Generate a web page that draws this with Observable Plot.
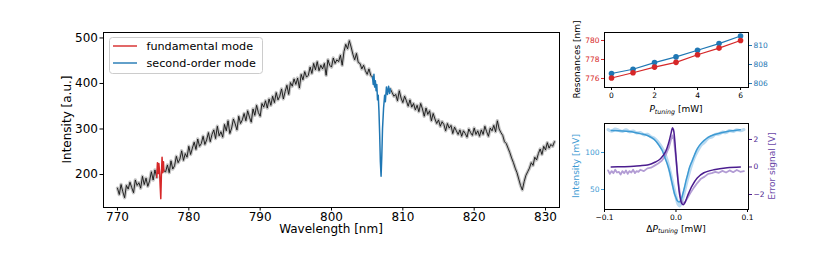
<!DOCTYPE html>
<html><head><meta charset="utf-8">
<script src="https://cdn.jsdelivr.net/npm/d3@7"></script>
<script src="https://cdn.jsdelivr.net/npm/@observablehq/plot@0.6"></script>
<style>
body{margin:0;background:#fff;}
#wrap{position:relative;width:830px;height:260px;font-family:"DejaVu Sans";}
#wrap svg{position:absolute;overflow:visible;}
</style>
</head><body><div id="wrap"></div>
<script>
// ---------- main spectrum ----------
const specStart = 770, specStep = 0.25;
const specIntensity = [
 170,156,178,162, 149,176,168,183, 171,160,188,176, 182,170,196,178, 192,174,186,206,
 188,210,194,199, 203,215,208,206, 221,204,230,212, 219,240,226,234, 252,231,246,238,
 262,244,258,271, 255,278,262,268, 284,266,276,292, 272,288,298,279, 306,285,294,282,
 310,296,318,290, 302,322,311,298, 328,312,320,334, 318,340,326,315, 344,330,352,336,
 328,356,348,362, 346,366,352,372, 358,380,364,372, 388,366,382,396, 376,402,394,410,
 398,412,390,420, 408,426,414,418, 436,422,444,430, 448,428,440,432, 444,418,452,440,
 436,456,444,452, 448,462,440,470, 486,476,494,480, 464,452,466,446, 444,432,440,428,
 420,432,418,414, 404,396,410,400, 386,388,382,392, 378,388,380,372, 376,362,384,368,
 358,372,362,350, 364,348,356,342, 352,338,356,344, 328,346,332,340, 318,334,322,312,
 320,306,316,310, 296,312,302,308, 290,304,296,288, 298,284,296,290, 282,300,292,286,
 302,288,296,284, 298,288,306,294, 284,302,296,308, 294,318,300,292, 286,272,268,258,
 248,236,226,214, 204,190,176,166, 184,198,206,214, 226,220,238,232, 246,256,244,262,
 254,270,258,266, 262,272
];
const fundW = [775.5,775.6,775.7,775.8,775.9,776.0,776.07,776.15,776.25,776.35,776.45,776.5];
const fundV = [194,226,202,224,206,170,147,196,238,204,228,208];
const secW = [805.75,805.85,805.95,806.05,806.15,806.25,806.35,806.45,806.55,806.65,806.75,806.85,806.95,807.05,807.15,807.3,807.45,807.55,807.7,807.85,808.0,808.15,808.25];
const secV = [414,398,420,392,406,384,398,364,374,340,290,228,196,240,300,346,374,360,392,376,394,378,388];
const mainXTicks = [770,780,790,800,810,820,830];
const mainYTicks = [200,300,400,500];
const legendLabels = ["fundamental mode","second-order mode"];

// ---------- top-right: resonances ----------
const power = [0,1,2,3,4,5,6];
const fundRes = [776.05,776.6,777.2,777.7,778.5,779.2,780.0];
const secRes = [807.05,807.5,808.2,808.8,809.5,810.2,811.0];
const powerTicks = [0,2,4,6];
const resTicksL = [776,778,780];
const resTicksR = [806,808,810];

// ---------- bottom-right: intensity & error signal ----------
const fitIX = [-0.0906,-0.075,-0.059,-0.05,-0.04,-0.034,-0.0287,-0.024,-0.0193,-0.016,-0.0123,-0.009,-0.0063,-0.004,-0.002,0.0,0.0017,0.0045,0.006,0.0077,0.0095,0.0119,0.014,0.0165,0.019,0.0227,0.026,0.0297,0.034,0.039,0.045,0.053,0.062,0.0716,0.08,0.09];
const fitIV = [129.7,129,127.5,125.5,123,120,116,110,102.7,94,84.7,74,62,52,44,39,35,33,34.5,37.8,44,53,62,71,80,89,97,105,111,116,120.5,124,126.5,128.4,129.5,130.6];
const dataIX = [-0.095,-0.09,-0.085,-0.08,-0.075,-0.07,-0.065,-0.06,-0.055,-0.05,-0.045,-0.04,-0.035,-0.03,-0.025,-0.02,-0.015,-0.01,-0.005,0.0,0.003,0.005,0.008,0.01,0.015,0.02,0.025,0.03,0.035,0.04,0.045,0.05,0.055,0.06,0.065,0.07,0.075,0.08,0.085,0.09,0.095];
const dataIV = [131,129,131.5,130,128.5,130.5,128,129,126.5,127,124,124.5,121,119,114,107,97,81,60,40,30,28,33,40,60,78,92,102,110,114,119.5,121,124.5,125,127.5,127,129.5,128.5,130.5,129.5,131];
const fitEX = [-0.0906,-0.075,-0.059,-0.05,-0.04,-0.034,-0.0287,-0.0217,-0.0147,-0.01,-0.0067,-0.0049,-0.0035,-0.002,-0.0002,0.0026,0.0054,0.008,0.01,0.0128,0.0165,0.0227,0.0297,0.039,0.053,0.0716,0.09];
const fitEV = [0.0,0.02,0.05,0.09,0.15,0.24,0.36,0.6,1.1,1.8,2.5,2.85,2.7,2.1,0.9,-0.9,-2.1,-2.65,-2.75,-2.55,-2.05,-1.35,-0.8,-0.42,-0.2,-0.06,-0.01];
const dataEX = [-0.095,-0.0925,-0.09,-0.0875,-0.085,-0.0825,-0.08,-0.0775,-0.075,-0.0725,-0.07,-0.0675,-0.065,-0.0625,-0.06,-0.0575,-0.055,-0.0525,-0.05,-0.045,-0.04,-0.035,-0.03,-0.025,-0.02,-0.015,-0.01,-0.007,-0.005,-0.003,0.0,0.003,0.006,0.009,0.012,0.015,0.02,0.025,0.03,0.035,0.04,0.045,0.05,0.055,0.06,0.065,0.07,0.075,0.08,0.085,0.09,0.095];
const dataEV = [-0.25,-0.5,-0.3,-0.45,-0.2,-0.4,-0.35,-0.55,-0.3,-0.45,-0.25,-0.5,-0.3,-0.4,-0.2,-0.45,-0.3,-0.35,-0.2,-0.3,-0.1,-0.05,0.1,0.25,0.45,0.8,1.4,2.0,2.3,2.0,0.6,-1.0,-2.1,-2.6,-2.6,-2.35,-1.9,-1.5,-1.15,-0.85,-0.7,-0.5,-0.45,-0.35,-0.42,-0.28,-0.4,-0.25,-0.38,-0.22,-0.35,-0.3];
const dpTicks = [-0.1,0,0.1];
const intTicks = [50,100];
const errTicks = [-2,0,2];

const RED = "#d62728", BLUE = "#1f77b4", LBLUE = "#3d9ad3", PURPLE = "#4b1d8f", LPURPLE = "#a48bcc", LBLUE2 = "#a9d1ee";
const wrap = document.getElementById("wrap");
function place(svg, left, top) { svg.style.left = left + "px"; svg.style.top = top + "px"; wrap.appendChild(svg); }
function addText(svg, txt, x, y, opts = {}) {
  const t = d3.select(svg).append("text")
    .attr("x", x).attr("y", y)
    .attr("text-anchor", opts.anchor || "middle")
    .attr("font-family", "DejaVu Sans")
    .attr("font-size", opts.size || 12)
    .attr("fill", opts.fill || "#000");
  if (opts.rotate) t.attr("transform", `rotate(-90 ${x} ${y})`).attr("dy", "0.35em");
  t.text(txt);
  return t;
}
function addMathLabel(svg, prefix, x, y, size) {
  const t = d3.select(svg).append("text").attr("x", x).attr("y", y)
    .attr("text-anchor", "middle").attr("font-family", "DejaVu Sans").attr("font-size", size).attr("fill", "#000");
  if (prefix) t.append("tspan").text(prefix);
  t.append("tspan").attr("font-style", "italic").text("P");
  t.append("tspan").attr("font-style", "italic").attr("font-size", size * 0.7).attr("dy", size * 0.22).text("tuning");
  t.append("tspan").attr("dy", -size * 0.22).text(" [mW]");
}

// main plot
const spec = specIntensity.map((v, i) => ({w: specStart + i * specStep, v}));
const hidden = w => (w > fundW[0] && w < fundW[fundW.length - 1]) || (w > secW[0] && w < secW[secW.length - 1]);
const fundRows = fundW.map((w, i) => ({w, v: fundV[i]}));
const secRows = secW.map((w, i) => ({w, v: secV[i]}));
const main = Plot.plot({
  width: 580, height: 260, marginLeft: 103, marginRight: 21, marginTop: 32, marginBottom: 53,
  style: {fontFamily: "DejaVu Sans", fontSize: "12px", color: "#000", background: "transparent", overflow: "visible"},
  x: {domain: [768.04, 831.96]},
  y: {domain: [127.5, 512]},
  marks: [
    Plot.line(spec, {x: "w", y: d => hidden(d.w) ? NaN : d.v, stroke: "#8a8a8a", strokeWidth: 3.4, strokeOpacity: 0.5}),
    Plot.line(spec, {x: "w", y: d => hidden(d.w) ? NaN : d.v, stroke: "#111", strokeWidth: 0.9}),
    Plot.line(fundRows, {x: "w", y: "v", stroke: RED, strokeWidth: 1.5}),
    Plot.line(secRows, {x: "w", y: "v", stroke: BLUE, strokeWidth: 1.5}),
    Plot.frame({stroke: "#000", strokeWidth: 1}),
    Plot.axisX(mainXTicks, {tickSize: 3.5, tickPadding: 1, label: null, fontSize: 12}),
    Plot.axisY(mainYTicks, {tickSize: 3.5, tickPadding: 2, label: null, fontSize: 12})
  ]
});
place(main, 0, 0);
addText(main, "Wavelength [nm]", 331, 233, {size: 12});
addText(main, "Intensity [a.u.]", 67, 119.5, {size: 12, rotate: true});
// legend
{
  const g = d3.select(main).append("g");
  g.append("rect").attr("x", 109.5).attr("y", 37.5).attr("width", 153).attr("height", 36).attr("rx", 3)
    .attr("fill", "#fff").attr("fill-opacity", 0.85).attr("stroke", "#cccccc").attr("stroke-width", 1);
  [[RED, 46], [BLUE, 63]].forEach(([c, y], i) => {
    g.append("line").attr("x1", 113).attr("x2", 137).attr("y1", y).attr("y2", y).attr("stroke", c).attr("stroke-width", 1.4);
    g.append("text").attr("x", 146.5).attr("y", y).attr("dy", "0.36em").attr("text-anchor", "start")
      .attr("font-family", "DejaVu Sans").attr("font-size", 11.2).attr("fill", "#000").text(legendLabels[i]);
  });
}

// top-right
const trL = [775.05, 780.84], trR = [805.58, 811.37];
const toL = v => trL[0] + (v - trR[0]) * (trL[1] - trL[0]) / (trR[1] - trR[0]);
const fromL = y => trR[0] + (y - trL[0]) * (trR[1] - trR[0]) / (trL[1] - trL[0]);
const resRows = power.map((p, i) => ({p, f: fundRes[i], s: toL(secRes[i])}));
const tr = Plot.plot({
  width: 240, height: 118, marginLeft: 44, marginRight: 52, marginTop: 32, marginBottom: 31,
  style: {fontFamily: "DejaVu Sans", fontSize: "7.5px", color: "#000", background: "transparent", overflow: "visible"},
  x: {domain: [-0.326, 6.37]},
  y: {domain: trL},
  marks: [
    Plot.line(resRows, {x: "p", y: "s", stroke: BLUE, strokeWidth: 1.2}),
    Plot.dot(resRows, {x: "p", y: "s", fill: BLUE, r: 2.8}),
    Plot.line(resRows, {x: "p", y: "f", stroke: RED, strokeWidth: 1.2}),
    Plot.dot(resRows, {x: "p", y: "f", fill: RED, r: 2.8}),
    Plot.frame({stroke: "#000", strokeWidth: 1}),
    Plot.axisX(powerTicks, {tickSize: 3, tickPadding: 2, label: null, fontSize: 7.5}),
    Plot.axisY(resTicksL, {tickSize: 3, tickPadding: 2, label: null, fontSize: 7.5, color: RED}),
    Plot.axisY(resTicksR.map(toL), {anchor: "right", tickSize: 3, tickPadding: 2, label: null, fontSize: 7.5, color: BLUE,
      tickFormat: d => String(Math.round(fromL(d)))})
  ]
});
place(tr, 560, 0);
addText(tr, "Resonances [nm]", 16.5, 59.5, {size: 9, rotate: true});
addMathLabel(tr, "", 116, 112, 9);

// bottom-right
const brL = [23, 139.2], brR = [-3.09, 3.16];
const eToL = v => brL[0] + (v - brR[0]) * (brL[1] - brL[0]) / (brR[1] - brR[0]);
const eFromL = y => brR[0] + (y - brL[0]) * (brR[1] - brR[0]) / (brL[1] - brL[0]);
const fmtE = d3.format("d"), fmtX = d3.format(".1f");
const fitIRows = fitIX.map((x, i) => ({x, y: fitIV[i]}));
const dataIRows = dataIX.map((x, i) => ({x, y: dataIV[i]}));
const fitERows = fitEX.map((x, i) => ({x, y: eToL(fitEV[i])}));
const dataERows = dataEX.map((x, i) => ({x, y: eToL(dataEV[i])}));
const br = Plot.plot({
  width: 240, height: 145, marginLeft: 44, marginRight: 52, marginTop: 8, marginBottom: 51,
  style: {fontFamily: "DejaVu Sans", fontSize: "7.5px", color: "#000", background: "transparent", overflow: "visible"},
  x: {domain: [-0.1, 0.1014]},
  y: {domain: brL},
  marks: [
    Plot.line(dataIRows, {x: "x", y: "y", stroke: LBLUE2, strokeWidth: 3.2, strokeOpacity: 0.8, curve: "catmull-rom"}),
    Plot.line(dataERows, {x: "x", y: "y", stroke: LPURPLE, strokeWidth: 1.8, strokeOpacity: 0.85}),
    Plot.line(fitIRows, {x: "x", y: "y", stroke: LBLUE, strokeWidth: 1.5, curve: "catmull-rom"}),
    Plot.line(fitERows, {x: "x", y: "y", stroke: PURPLE, strokeWidth: 1.5, curve: "catmull-rom"}),
    Plot.frame({stroke: "#000", strokeWidth: 1}),
    Plot.axisX(dpTicks, {tickSize: 3, tickPadding: 2, label: null, fontSize: 7.5, tickFormat: fmtX}),
    Plot.axisY(intTicks, {tickSize: 3, tickPadding: 2, label: null, fontSize: 7.5, color: LBLUE}),
    Plot.axisY(errTicks.map(eToL), {anchor: "right", tickSize: 3, tickPadding: 2, label: null, fontSize: 7.5, color: PURPLE,
      tickFormat: d => fmtE(Math.round(eFromL(d)))})
  ]
});
place(br, 560, 115);
addText(br, "Intensity [mV]", 16, 51, {size: 9, rotate: true, fill: LBLUE});
addText(br, "Error signal [V]", 212, 51, {size: 9, rotate: true, fill: "#6a47a8"});
addMathLabel(br, "Δ", 116, 116.5, 9);
</script></body></html>
